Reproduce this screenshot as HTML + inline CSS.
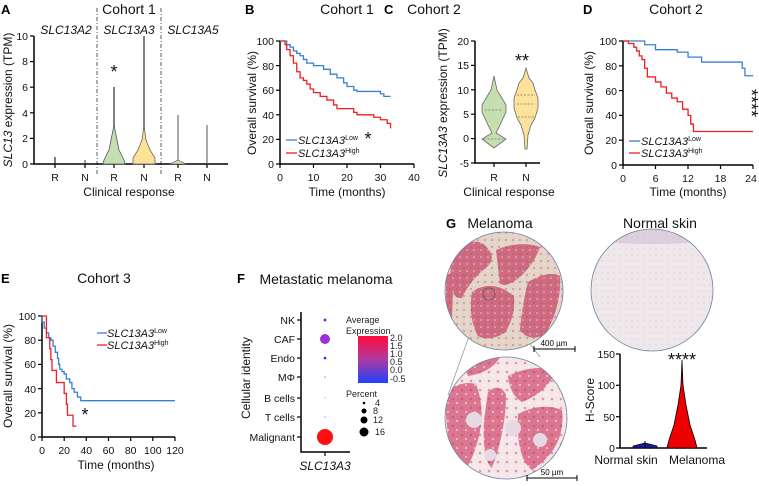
<!DOCTYPE html>
<html><head><meta charset="utf-8"><style>
html,body{margin:0;padding:0;background:#fff;}
svg{display:block;font-family:"Liberation Sans",Arial,sans-serif;}
.t{font-size:10.5px;fill:#111}
.ax{stroke:#000;stroke-width:1.5;fill:none}
.km{fill:none;stroke-width:1.3;vector-effect:non-scaling-stroke}
.lab{font-size:12px;fill:#111}
.ttl{font-size:14px;fill:#111}
.pl{font-size:13px;font-weight:bold;fill:#000}
</style></head><body>
<svg width="759" height="486" viewBox="0 0 759 486" xmlns="http://www.w3.org/2000/svg">
<defs>
<pattern id="tex1" width="7" height="7" patternUnits="userSpaceOnUse"><rect width="7" height="7" fill="none"/><circle cx="2" cy="2" r="1" fill="#b84866" opacity="0.5"/><circle cx="5" cy="5" r="0.8" fill="#f4ece6" opacity="0.7"/></pattern>
<pattern id="tex2" width="9" height="9" patternUnits="userSpaceOnUse"><circle cx="3" cy="3" r="1.3" fill="#c03a60" opacity="0.45"/><circle cx="7" cy="7" r="1" fill="#fff" opacity="0.6"/></pattern>
<pattern id="tex3" width="6" height="6" patternUnits="userSpaceOnUse"><circle cx="2" cy="3" r="0.6" fill="#b8a0b8" opacity="0.5"/></pattern>
</defs>
<!-- Panel A -->
<text class="pl" x="1" y="14">A</text>
<text class="ttl" x="129" y="14" text-anchor="middle">Cohort 1</text>
<text class="lab" x="66" y="34" text-anchor="middle" font-style="italic">SLC13A2</text>
<text class="lab" x="129" y="34" text-anchor="middle" font-style="italic">SLC13A3</text>
<text class="lab" x="193" y="34" text-anchor="middle" font-style="italic">SLC13A5</text>
<line x1="97" y1="8" x2="97" y2="176" stroke="#333" stroke-dasharray="4,2,1,2" stroke-width="0.8"/>
<line x1="161" y1="8" x2="161" y2="176" stroke="#333" stroke-dasharray="4,2,1,2" stroke-width="0.8"/>
<path class="ax" d="M34 36 V164 H228"/>
<g stroke="#000" stroke-width="1.2">
<line x1="30" y1="36" x2="34" y2="36"/><line x1="30" y1="61.6" x2="34" y2="61.6"/><line x1="30" y1="87.2" x2="34" y2="87.2"/><line x1="30" y1="112.8" x2="34" y2="112.8"/><line x1="30" y1="138.4" x2="34" y2="138.4"/><line x1="30" y1="164" x2="34" y2="164"/>
<line x1="55" y1="164" x2="55" y2="168"/><line x1="85" y1="164" x2="85" y2="168"/><line x1="114" y1="164" x2="114" y2="168"/><line x1="144" y1="164" x2="144" y2="168"/><line x1="178" y1="164" x2="178" y2="168"/><line x1="207" y1="164" x2="207" y2="168"/>
</g>
<g class="t" text-anchor="end"><text x="28" y="40">10</text><text x="28" y="65">8</text><text x="28" y="91">6</text><text x="28" y="117">4</text><text x="28" y="142">2</text><text x="28" y="168">0</text></g>
<g class="t" text-anchor="middle"><text x="55" y="181">R</text><text x="85" y="181">N</text><text x="114" y="181">R</text><text x="144" y="181">N</text><text x="178" y="181">R</text><text x="207" y="181">N</text></g>
<text class="lab" x="129" y="196" text-anchor="middle">Clinical response</text>
<text class="lab" transform="translate(12,100) rotate(-90)" text-anchor="middle"><tspan font-style="italic">SLC13</tspan> expression (TPM)</text>
<line x1="55" y1="164" x2="55" y2="157" stroke="#223" stroke-width="1.2"/>
<line x1="85" y1="164" x2="85" y2="160" stroke="#333" stroke-width="1"/>
<line x1="114" y1="164" x2="114" y2="87" stroke="#555" stroke-width="1.5"/>
<path d="M114 125 L116 135 L119 150 L124 160 L125 164 L103 164 L104 160 L109 150 L112 135Z" fill="#c5dfb0" stroke="#556" stroke-width="0.8"/>
<line x1="144" y1="164" x2="144" y2="36" stroke="#555" stroke-width="1.5"/>
<path d="M144 126 L146 140 L150 150 L155 158 L155 164 L133 164 L133 158 L138 150 L142 140Z" fill="#fde39a" stroke="#665" stroke-width="0.8"/>
<line x1="178" y1="164" x2="178" y2="115" stroke="#555" stroke-width="1"/>
<path d="M178 160 L186 164 L170 164Z" fill="#c5dfb0" stroke="#556" stroke-width="0.6"/>
<line x1="207" y1="164" x2="207" y2="125" stroke="#555" stroke-width="1"/>
<text x="114" y="78" text-anchor="middle" font-size="18" fill="#111">*</text>

<!-- Panel B -->
<text class="pl" x="245" y="14">B</text>
<text class="ttl" x="347" y="14" text-anchor="middle">Cohort 1</text>
<path class="ax" d="M280 41 V164 H414"/>
<g stroke="#000" stroke-width="1.2">
<line x1="276" y1="41" x2="280" y2="41"/><line x1="276" y1="65.6" x2="280" y2="65.6"/><line x1="276" y1="90.2" x2="280" y2="90.2"/><line x1="276" y1="114.8" x2="280" y2="114.8"/><line x1="276" y1="139.4" x2="280" y2="139.4"/><line x1="276" y1="164" x2="280" y2="164"/>
<line x1="280" y1="164" x2="280" y2="168"/><line x1="313.5" y1="164" x2="313.5" y2="168"/><line x1="347" y1="164" x2="347" y2="168"/><line x1="380.5" y1="164" x2="380.5" y2="168"/><line x1="414" y1="164" x2="414" y2="168"/>
</g>
<g class="t" text-anchor="end"><text x="274" y="45">100</text><text x="274" y="70">80</text><text x="274" y="94">60</text><text x="274" y="119">40</text><text x="274" y="143">20</text><text x="274" y="168">0</text></g>
<g class="t" text-anchor="middle"><text x="280" y="181">0</text><text x="313.5" y="181">10</text><text x="347" y="181">20</text><text x="380.5" y="181">30</text><text x="414" y="181">40</text></g>
<text class="lab" x="347" y="196" text-anchor="middle">Time (months)</text>
<text class="lab" transform="translate(256,103) rotate(-90)" text-anchor="middle">Overall survival (%)</text>
<g transform="translate(280,164) scale(3.35,-1.23)">
<path class="km" stroke="#3a7fd5" d="M0 100 H2 V97 H3 V95 H4 V92 H5 V90 H6 V88 H7 V85 H8 V82 H10 V80 H13 V77 H15 V73 H17 V70 H19 V66 H20 V63 H22 V60 H23 V59 H30 V57 H31 V55 H33"/>
<path class="km" stroke="#f02020" d="M0 100 H1.5 V97 H2 V93 H3 V88 H4 V82 H5 V75 H6 V70 H7 V68 H8 V65 H9 V61 H10 V58 H12 V55 H14 V52 H16 V48 H17 V45 H22 V42 H23 V40 H28 V38 H30 V36 H32 V33 H33 V29"/>
</g>
<line x1="286" y1="140" x2="297" y2="140" stroke="#3a7fd5" stroke-width="1.3"/>
<text x="298" y="144" font-size="11" font-style="italic" fill="#111">SLC13A3<tspan font-size="7" font-style="normal" dy="-4">Low</tspan></text>
<line x1="286" y1="153" x2="297" y2="153" stroke="#f02020" stroke-width="1.3"/>
<text x="298" y="157" font-size="11" font-style="italic" fill="#111">SLC13A3<tspan font-size="7" font-style="normal" dy="-4">High</tspan></text>
<text x="368" y="145" text-anchor="middle" font-size="18" fill="#111">*</text>

<!-- Panel C -->
<text class="pl" x="384" y="14">C</text>
<text class="ttl" x="434" y="14" text-anchor="middle">Cohort 2</text>
<path class="ax" d="M475 41 V163 H540"/>
<g stroke="#000" stroke-width="1.2">
<line x1="471" y1="41" x2="475" y2="41"/><line x1="471" y1="65.4" x2="475" y2="65.4"/><line x1="471" y1="89.8" x2="475" y2="89.8"/><line x1="471" y1="114.2" x2="475" y2="114.2"/><line x1="471" y1="138.6" x2="475" y2="138.6"/><line x1="471" y1="163" x2="475" y2="163"/>
<line x1="494" y1="163" x2="494" y2="167"/><line x1="526" y1="163" x2="526" y2="167"/>
</g>
<g class="t" text-anchor="end"><text x="469" y="45">20</text><text x="469" y="69">15</text><text x="469" y="94">10</text><text x="469" y="118">5</text><text x="469" y="142">0</text><text x="469" y="167">-5</text></g>
<g class="t" text-anchor="middle"><text x="494" y="181">R</text><text x="526" y="181">N</text></g>
<text class="lab" x="509" y="196" text-anchor="middle">Clinical response</text>
<text class="lab" transform="translate(447,103) rotate(-90)" text-anchor="middle"><tspan font-style="italic">SLC13A3</tspan> expression (TPM)</text>
<polygon points="494,76 497,90 506,105 506,112 500,125 496,133 506,139 494,148 482,139 492,133 488,125 482,112 482,105 491,90" fill="#c5dfb0" stroke="#666" stroke-width="0.8"/>
<polygon points="526,68 529,78 533,83 535,90 538,98 538,108 535,118 531,125 528,135 527,149 525,149 524,135 521,125 517,118 514,108 514,98 517,90 519,83 523,78" fill="#fde39a" stroke="#666" stroke-width="0.8"/>
<g stroke="#777" stroke-width="0.7" stroke-dasharray="2,1.5"><line x1="485" y1="110" x2="503" y2="110"/><line x1="484" y1="139" x2="504" y2="139"/><line x1="517" y1="104" x2="535" y2="104"/><line x1="517" y1="95" x2="535" y2="95"/><line x1="518" y1="117" x2="534" y2="117"/></g>
<text x="522" y="67" text-anchor="middle" font-size="18" fill="#111">**</text>

<!-- Panel D -->
<text class="pl" x="583" y="14">D</text>
<text class="ttl" x="676" y="14" text-anchor="middle">Cohort 2</text>
<path class="ax" d="M623 41 V165 H753"/>
<g stroke="#000" stroke-width="1.2">
<line x1="619" y1="41" x2="623" y2="41"/><line x1="619" y1="65.8" x2="623" y2="65.8"/><line x1="619" y1="90.6" x2="623" y2="90.6"/><line x1="619" y1="115.4" x2="623" y2="115.4"/><line x1="619" y1="140.2" x2="623" y2="140.2"/><line x1="619" y1="165" x2="623" y2="165"/>
<line x1="623" y1="165" x2="623" y2="169"/><line x1="655.5" y1="165" x2="655.5" y2="169"/><line x1="688" y1="165" x2="688" y2="169"/><line x1="720.5" y1="165" x2="720.5" y2="169"/><line x1="753" y1="165" x2="753" y2="169"/>
</g>
<g class="t" text-anchor="end"><text x="617" y="45">100</text><text x="617" y="70">80</text><text x="617" y="95">60</text><text x="617" y="119">40</text><text x="617" y="144">20</text><text x="617" y="169">0</text></g>
<g class="t" text-anchor="middle"><text x="623" y="182">0</text><text x="655.5" y="182">6</text><text x="688" y="182">12</text><text x="720.5" y="182">18</text><text x="751" y="182">24</text></g>
<text class="lab" x="688" y="196" text-anchor="middle">Time (months)</text>
<text class="lab" transform="translate(593,103) rotate(-90)" text-anchor="middle">Overall survival (%)</text>
<g transform="translate(623,165) scale(5.42,-1.24)">
<path class="km" stroke="#3a7fd5" d="M0 100 H4 V97 H6 V93 H10 V91 H12 V87 H14.5 V83 H22 V78 H22.5 V72 H24"/>
<path class="km" stroke="#f02020" d="M0 100 H1 V98 H2 V95 H2.5 V92 H3 V88 H3.5 V85 H4 V78 H4.5 V71 H6 V67 H7 V63 H8 V58 H9 V54 H10 V51 H11 V45 H12 V40 H12.5 V33 H13 V27 H24"/>
</g>
<line x1="629" y1="141" x2="640" y2="141" stroke="#3a7fd5" stroke-width="1.3"/>
<text x="641" y="145" font-size="11" font-style="italic" fill="#111">SLC13A3<tspan font-size="7" font-style="normal" dy="-4">Low</tspan></text>
<line x1="629" y1="153" x2="640" y2="153" stroke="#f02020" stroke-width="1.3"/>
<text x="641" y="157" font-size="11" font-style="italic" fill="#111">SLC13A3<tspan font-size="7" font-style="normal" dy="-4">High</tspan></text>
<text transform="translate(745,103) rotate(90)" text-anchor="middle" font-size="18" fill="#111">****</text>

<!-- Panel E -->
<text class="pl" x="1" y="283">E</text>
<text class="ttl" x="104" y="283" text-anchor="middle">Cohort 3</text>
<path class="ax" d="M42 316 V437 H175"/>
<g stroke="#000" stroke-width="1.2">
<line x1="38" y1="316" x2="42" y2="316"/><line x1="38" y1="340.2" x2="42" y2="340.2"/><line x1="38" y1="364.4" x2="42" y2="364.4"/><line x1="38" y1="388.6" x2="42" y2="388.6"/><line x1="38" y1="412.8" x2="42" y2="412.8"/><line x1="38" y1="437" x2="42" y2="437"/>
<line x1="42" y1="437" x2="42" y2="441"/><line x1="64.2" y1="437" x2="64.2" y2="441"/><line x1="86.3" y1="437" x2="86.3" y2="441"/><line x1="108.5" y1="437" x2="108.5" y2="441"/><line x1="130.7" y1="437" x2="130.7" y2="441"/><line x1="152.8" y1="437" x2="152.8" y2="441"/><line x1="175" y1="437" x2="175" y2="441"/>
</g>
<g class="t" text-anchor="end"><text x="36" y="320">100</text><text x="36" y="344">80</text><text x="36" y="368">60</text><text x="36" y="393">40</text><text x="36" y="417">20</text><text x="36" y="441">0</text></g>
<g class="t" text-anchor="middle"><text x="42" y="454">0</text><text x="64.2" y="454">20</text><text x="86.3" y="454">40</text><text x="108.5" y="454">60</text><text x="130.7" y="454">80</text><text x="152.8" y="454">100</text><text x="175" y="454">120</text></g>
<text class="lab" x="116" y="469" text-anchor="middle">Time (months)</text>
<text class="lab" transform="translate(12,376) rotate(-90)" text-anchor="middle">Overall survival (%)</text>
<g transform="translate(42,437) scale(1.108,-1.21)">
<path class="km" stroke="#3a7fd5" d="M0 100 V95 H2 V90 H4 V86 H6 V82 H8 V80 H10 V75 H12 V70 H14 V65 H15 V60 H16 V56 H18 V54 H20 V52 H22 V48 H25 V45 H27 V40 H29 V37 H32 V33 H35 V30 H120"/>
<path class="km" stroke="#f02020" d="M0 100 H4 V82 H7 V73 H8 V64 H9 V55 H13 V45 H20 V36 H22 V27 H23 V18 H28 V9 H31"/>
</g>
<line x1="97" y1="333" x2="107" y2="333" stroke="#3a7fd5" stroke-width="1.3"/>
<text x="107" y="337" font-size="11" font-style="italic" fill="#111">SLC13A3<tspan font-size="7" font-style="normal" dy="-4">Low</tspan></text>
<line x1="97" y1="345" x2="107" y2="345" stroke="#f02020" stroke-width="1.3"/>
<text x="107" y="349" font-size="11" font-style="italic" fill="#111">SLC13A3<tspan font-size="7" font-style="normal" dy="-4">High</tspan></text>
<text x="85" y="421" text-anchor="middle" font-size="18" fill="#111">*</text>

<!-- Panel F -->
<text class="pl" x="237" y="283">F</text>
<text class="ttl" x="326" y="284" text-anchor="middle">Metastatic melanoma</text>
<path class="ax" d="M301 312 V452 H350"/>
<g stroke="#000" stroke-width="1.2">
<line x1="297" y1="320" x2="301" y2="320"/><line x1="297" y1="339" x2="301" y2="339"/><line x1="297" y1="358" x2="301" y2="358"/><line x1="297" y1="377" x2="301" y2="377"/><line x1="297" y1="398" x2="301" y2="398"/><line x1="297" y1="417" x2="301" y2="417"/><line x1="297" y1="437" x2="301" y2="437"/>
<line x1="325" y1="452" x2="325" y2="456"/>
</g>
<g class="t" text-anchor="end"><text x="295" y="324">NK</text><text x="295" y="343">CAF</text><text x="295" y="362">Endo</text><text x="295" y="381">MΦ</text><text x="295" y="402">B cells</text><text x="295" y="421">T cells</text><text x="295" y="441">Malignant</text></g>
<text class="lab" x="325" y="470" text-anchor="middle" font-style="italic">SLC13A3</text>
<text class="lab" transform="translate(250,378) rotate(-90)" text-anchor="middle">Cellular identity</text>
<circle cx="325" cy="320" r="1.5" fill="#8a2be2"/>
<circle cx="325" cy="339" r="5" fill="#9a30d8"/>
<circle cx="325" cy="358" r="1.3" fill="#2a2af0"/>
<circle cx="325" cy="377" r="0.8" fill="#9090f0"/>
<circle cx="325" cy="398" r="0.7" fill="#b0b0f0"/>
<circle cx="325" cy="417" r="0.7" fill="#9090f0"/>
<circle cx="325" cy="437" r="8" fill="#ff1010"/>
<text x="346" y="323" font-size="9" fill="#222">Average</text>
<text x="346" y="334" font-size="9" fill="#222">Expression</text>
<defs><linearGradient id="cb" x1="0" y1="0" x2="0" y2="1"><stop offset="0" stop-color="#ff0a3a"/><stop offset="0.5" stop-color="#b03aa0"/><stop offset="1" stop-color="#2040ff"/></linearGradient></defs>
<rect x="358" y="336" width="30" height="47" fill="url(#cb)"/>
<g font-size="9" fill="#222"><text x="390" y="341">2.0</text><text x="390" y="349">1.5</text><text x="390" y="357">1.0</text><text x="390" y="365">0.5</text><text x="390" y="373">0.0</text><text x="390" y="382">-0.5</text></g>
<text x="346" y="397" font-size="9" fill="#222">Percent</text>
<circle cx="364" cy="403" r="1.3" fill="#000"/><circle cx="364" cy="411" r="2.5" fill="#000"/><circle cx="364" cy="420" r="3.5" fill="#000"/><circle cx="364" cy="432" r="4.5" fill="#000"/>
<g font-size="9" fill="#222"><text x="375" y="406">4</text><text x="373" y="414">8</text><text x="373" y="423">12</text><text x="375" y="435">16</text></g>

<!-- Panel G -->
<text class="pl" x="446" y="228">G</text>
<text class="ttl" x="500" y="228" text-anchor="middle">Melanoma</text>
<text class="ttl" x="660" y="228" text-anchor="middle">Normal skin</text>
<defs>
<clipPath id="c1"><circle cx="504" cy="291" r="59"/></clipPath>
<clipPath id="c2"><circle cx="506" cy="418" r="61"/></clipPath>
<clipPath id="c3"><circle cx="652" cy="290" r="61"/></clipPath>
</defs>
<line x1="482" y1="300" x2="448" y2="395" stroke="#999" stroke-width="0.8"/>
<line x1="498" y1="303" x2="540" y2="357" stroke="#999" stroke-width="0.8"/>
<circle cx="504" cy="291" r="59" fill="#e4d4c8"/>
<g clip-path="url(#c1)" fill="#c8506e" opacity="0.8">
<path d="M452 252 Q470 238 482 243 Q498 255 488 266 Q470 280 462 298 Q452 300 450 280Z"/>
<path d="M496 250 Q520 240 540 247 Q535 262 522 275 Q508 288 500 284Z"/>
<path d="M472 292 Q492 278 514 296 Q516 315 505 333 Q488 342 478 336 Q468 318 472 292Z"/>
<path d="M528 282 Q548 270 560 276 Q562 305 545 335 Q528 342 520 330 Q522 305 528 282Z"/>
<path d="M446 275 L454 272 L452 318 L446 318Z"/>
</g>
<circle cx="504" cy="291" r="59" fill="url(#tex1)"/>
<circle cx="504" cy="291" r="59" fill="none" stroke="#7080a0" stroke-width="0.8"/>
<circle cx="489" cy="294" r="6" fill="none" stroke="#555" stroke-width="0.8"/>
<circle cx="506" cy="418" r="61" fill="#f5e6e8"/>
<g clip-path="url(#c2)" fill="#d0486c" opacity="0.7">
<path d="M445 392 Q462 380 476 384 Q486 410 478 440 Q470 470 456 478 Q446 440 445 392Z"/>
<path d="M488 392 Q500 382 506 395 Q506 430 492 468 Q482 460 484 420Z"/>
<path d="M508 376 Q532 364 556 370 Q548 392 522 402 Q510 395 508 376Z"/>
<path d="M518 414 Q542 402 562 410 Q566 448 532 470 Q516 458 518 414Z"/>
<path d="M462 360 Q482 352 500 357 Q492 372 468 376Z"/>
</g>
<circle cx="506" cy="418" r="61" fill="url(#tex2)"/>
<g clip-path="url(#c2)" fill="#e6d8e4"><circle cx="474" cy="420" r="8"/><circle cx="513" cy="428" r="8"/><circle cx="540" cy="440" r="7"/><circle cx="490" cy="455" r="6"/></g>
<circle cx="506" cy="418" r="61" fill="none" stroke="#7080a0" stroke-width="0.8"/>
<circle cx="652" cy="290" r="61" fill="#eee8eb"/>
<g clip-path="url(#c3)"><path d="M590 240 Q650 248 715 240 L715 225 L590 225Z" fill="#ddd0dc"/></g>
<circle cx="652" cy="290" r="61" fill="url(#tex3)"/>
<circle cx="652" cy="290" r="61" fill="none" stroke="#7080a0" stroke-width="0.8"/>
<path d="M534 349 H575 M534 346 V352 M575 346 V352" stroke="#000" stroke-width="1"/>
<text x="554" y="346" font-size="8" text-anchor="middle" fill="#000">400 µm</text>
<path d="M527 478 H577 M527 475 V481 M577 475 V481" stroke="#000" stroke-width="1"/>
<text x="552" y="475" font-size="8" text-anchor="middle" fill="#000">50 µm</text>
<!-- H-score -->
<path class="ax" d="M620 354 V448 H707"/>
<g stroke="#000" stroke-width="1.2"><line x1="616" y1="354" x2="620" y2="354"/><line x1="616" y1="385.3" x2="620" y2="385.3"/><line x1="616" y1="416.7" x2="620" y2="416.7"/><line x1="616" y1="448" x2="620" y2="448"/></g>
<g class="t" text-anchor="end"><text x="615" y="358">150</text><text x="615" y="389">100</text><text x="615" y="421">50</text><text x="615" y="452">0</text></g>
<text class="lab" x="626" y="464" text-anchor="middle">Normal skin</text>
<text class="lab" x="697" y="464" text-anchor="middle">Melanoma</text>
<text class="lab" transform="translate(594,400) rotate(-90)" text-anchor="middle">H-Score</text>
<path d="M645 443 L657 446 L657 448 L633 448 L633 446Z" fill="#1a1aa0" stroke="#000" stroke-width="0.7"/>
<line x1="645" y1="448" x2="645" y2="441" stroke="#000"/>
<path d="M682 360 L683 385 L686 405 L690 425 L695 440 L697 448 L667 448 L669 440 L674 425 L678 405 L681 385Z" fill="#ee0000" stroke="#000" stroke-width="0.8"/>
<text x="682" y="366" text-anchor="middle" font-size="18" fill="#111">****</text>
</svg>
</body></html>
